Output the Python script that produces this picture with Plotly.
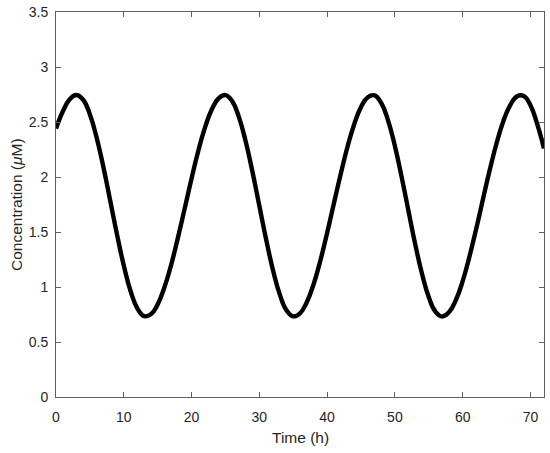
import plotly.graph_objects as go

time_h = list(range(0, 73))
concentration = [
    2.44, 2.595, 2.705, 2.745, 2.702, 2.569, 2.357, 2.088, 1.784, 1.478,
    1.196, 0.964, 0.806, 0.735, 0.752, 0.842, 0.997, 1.204, 1.451, 1.717,
    1.987, 2.239, 2.453, 2.616, 2.716, 2.745, 2.688, 2.542, 2.320, 2.043,
    1.739, 1.434, 1.157, 0.935, 0.789, 0.733, 0.761, 0.862, 1.024, 1.239,
    1.490, 1.760, 2.026, 2.273, 2.480, 2.635, 2.725, 2.742, 2.671, 2.513,
    2.281, 1.999, 1.693, 1.389, 1.120, 0.908, 0.775, 0.732, 0.772, 0.882,
    1.053, 1.276, 1.529, 1.800, 2.065, 2.307, 2.507, 2.652, 2.732, 2.737,
    2.653, 2.481, 2.26,
]
x_ticks = [0, 10, 20, 30, 40, 50, 60, 70]
y_ticks = [0, 0.5, 1, 1.5, 2, 2.5, 3, 3.5]

FONT = "Liberation Sans, Arial, sans-serif"
TXT = "#262626"
AX = "#5e5e5e"

fig = go.Figure()
fig.add_trace(go.Scatter(
    x=time_h, y=concentration, mode="lines",
    line=dict(color="black", width=4.4, shape="spline", smoothing=1.3),
    showlegend=False, hoverinfo="x+y", cliponaxis=True,
))

axis_common = dict(
    showgrid=False, zeroline=False, showline=True, linecolor=AX,
    linewidth=1, mirror="allticks", ticks="inside", ticklen=5, tickwidth=1,
    tickcolor=AX, automargin=False, ticklabeloverflow="allow", layer="above traces",
    tickfont=dict(family=FONT, size=14, color=TXT),
)

fig.update_xaxes(range=[0, 72], tickvals=x_ticks, ticklabelstandoff=7, **axis_common)
fig.update_yaxes(range=[0, 3.5], tickvals=y_ticks, ticktext=[str(v) for v in y_ticks],
                 ticklabelstandoff=4, **axis_common)

fig.add_annotation(text="Time (h)", xref="paper", yref="paper", x=0.5, y=0,
                   xanchor="center", yanchor="middle", yshift=-40, showarrow=False,
                   font=dict(family=FONT, size=15.5, color=TXT))
fig.add_annotation(text="Concentration (<i>μ</i>M)", xref="paper", yref="paper", x=0, y=0.5,
                   xanchor="center", yanchor="middle", xshift=-39.5, textangle=-90, showarrow=False,
                   font=dict(family=FONT, size=15.5, color=TXT))

fig.update_layout(
    width=550, height=453,
    margin=dict(l=56, r=6, t=12, b=56),
    paper_bgcolor="white", plot_bgcolor="white",
)

fig.write_html("out.html", config={"displayModeBar": False},
               post_script="document.body.style.margin='0';")
